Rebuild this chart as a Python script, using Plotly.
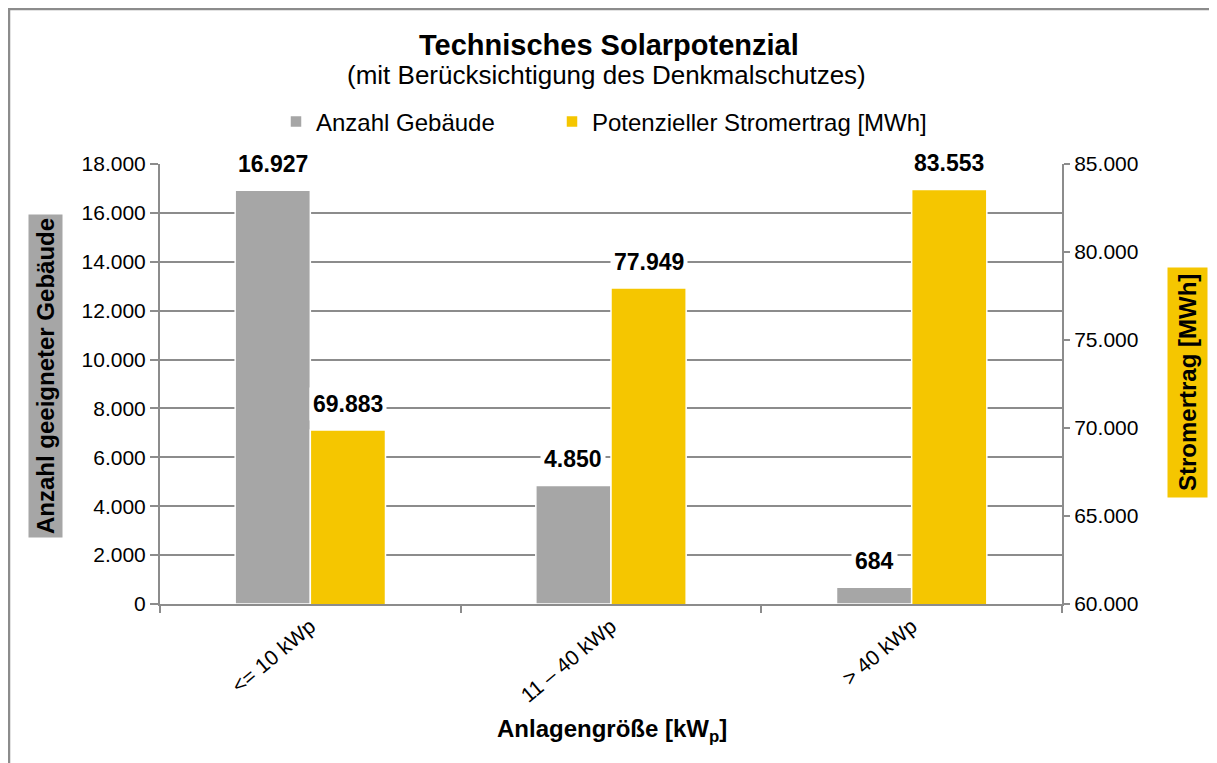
import plotly.graph_objects as go

categories = ["<= 10 kWp", "11 – 40 kWp", "> 40 kWp"]
gebaeude = [16927, 4850, 684]
stromertrag = [69883, 77949, 83553]
left_ticks = [0, 2000, 4000, 6000, 8000, 10000, 12000, 14000, 16000, 18000]
right_ticks = [60000, 65000, 70000, 75000, 80000, 85000]

GRAY = "#A6A6A6"
YELLOW = "#F5C600"
LINE = "#8C8C8C"
FONT = "Liberation Sans, Arial, sans-serif"

# page has an 8px body margin; work in screen pixels and convert
OFF = 8
W, H = 1217 - OFF, 763 - OFF
PL, PR, PT, PB = 160, 1062, 164, 604   # plot area in screen pixels
L, R, T, B = PL - OFF, W - (PR - OFF), PT - OFF, H - (PB - OFF)
pw, ph = PR - PL, PB - PT


def px_x(x):
    return (x - PL) / pw


def px_y(y):
    return (PB - y) / ph


def de(v):
    return f"{v:,}".replace(",", ".")


fig = go.Figure()
fig.add_trace(go.Bar(
    x=categories, y=gebaeude, name="Anzahl Gebäude",
    marker=dict(color=GRAY, line=dict(color="white", width=1.5)),
    width=0.25, offset=-0.25, yaxis="y", legend="legend",
))
fig.add_trace(go.Bar(
    x=categories, y=stromertrag, name="Potenzieller Stromertrag [MWh]",
    marker=dict(color=YELLOW, line=dict(color="white", width=1.5)),
    width=0.25, offset=0.0, yaxis="y2", legend="legend2",
))

annotations = []
for i, v in enumerate(gebaeude):
    annotations.append(dict(
        x=i - 0.125, y=v, xref="x", yref="y", text=f"<b>{de(v)}</b>",
        showarrow=False, yanchor="middle", yshift=26, bgcolor="white",
        borderpad=3, font=dict(size=23, color="black", family=FONT)))
for i, v in enumerate(stromertrag):
    annotations.append(dict(
        x=i + 0.125, y=v, xref="x", yref="y2", text=f"<b>{de(v)}</b>",
        showarrow=False, yanchor="middle", yshift=26, bgcolor="white",
        borderpad=3, font=dict(size=23, color="black", family=FONT)))

# titles
annotations.append(dict(
    x=px_x(609), y=px_y(45), xref="paper", yref="paper",
    text="<b>Technisches Solarpotenzial</b>", showarrow=False,
    xanchor="center", yanchor="middle",
    font=dict(size=29, color="black", family=FONT)))
annotations.append(dict(
    x=px_x(606), y=px_y(75), xref="paper", yref="paper",
    text="(mit Berücksichtigung des Denkmalschutzes)", showarrow=False,
    xanchor="center", yanchor="middle",
    font=dict(size=26, color="black", family=FONT)))
# axis titles
annotations.append(dict(
    x=px_x(45), y=px_y(376), xref="paper", yref="paper",
    text="<b>Anzahl geeigneter Gebäude</b>", showarrow=False, textangle=-90,
    xanchor="center", yanchor="middle", bgcolor=GRAY, borderpad=3,
    font=dict(size=24, color="black", family=FONT)))
annotations.append(dict(
    x=px_x(1187), y=px_y(383), xref="paper", yref="paper",
    text="<b>Stromertrag [MWh]</b>", showarrow=False, textangle=-90,
    xanchor="center", yanchor="middle", bgcolor=YELLOW, borderpad=6,
    font=dict(size=24, color="black", family=FONT)))
annotations.append(dict(
    x=px_x(612), y=px_y(730), xref="paper", yref="paper",
    text="<b>Anlagengröße [kW<sub>p</sub>]</b>", showarrow=False,
    xanchor="center", yanchor="middle",
    font=dict(size=24, color="black", family=FONT)))

legend_common = dict(orientation="h", xanchor="left", y=px_y(122),
                     yanchor="middle", font=dict(size=24, family=FONT),
                     bgcolor="rgba(0,0,0,0)", itemwidth=30)

fig.update_layout(
    width=W, height=H,
    margin=dict(l=L, r=R, t=T, b=B, autoexpand=False),
    paper_bgcolor="white", plot_bgcolor="white",
    separators=",.",
    font=dict(family=FONT, size=21, color="black"),
    barmode="overlay",
    showlegend=True,
    legend=dict(x=px_x(276), **legend_common),
    legend2=dict(x=px_x(552), **legend_common),
    xaxis=dict(type="category", tickson="boundaries", ticks="outside",
               ticklen=7, tickcolor=LINE, tickwidth=2, showline=True,
               linecolor=LINE, linewidth=2, tickangle=-40, showgrid=False,
               tickfont=dict(size=21, family=FONT), range=[-0.5, 2.5]),
    yaxis=dict(range=[0, 18000], tickvals=left_ticks, tickformat=",d",
               showgrid=True, gridcolor=LINE, gridwidth=2, showline=True,
               linecolor=LINE, linewidth=2, ticks="outside", ticklen=8,
               tickcolor=LINE, tickwidth=2, zeroline=False,
               tickfont=dict(size=21, family=FONT)),
    yaxis2=dict(range=[60000, 85000], tickvals=right_ticks, tickformat=",d",
                overlaying="y", side="right", showgrid=False, showline=True,
                linecolor=LINE, linewidth=2, ticks="outside", ticklen=6,
                tickcolor=LINE, tickwidth=2, zeroline=False,
                tickfont=dict(size=21, family=FONT)),
    annotations=annotations,
    shapes=[dict(type="rect", xref="paper", yref="paper",
                 x0=px_x(9), y0=px_y(9), x1=px_x(1260), y1=px_y(800),
                 line=dict(color=LINE, width=2.5), fillcolor="rgba(0,0,0,0)",
                 layer="below")],
)

fig.write_html("out.html")
